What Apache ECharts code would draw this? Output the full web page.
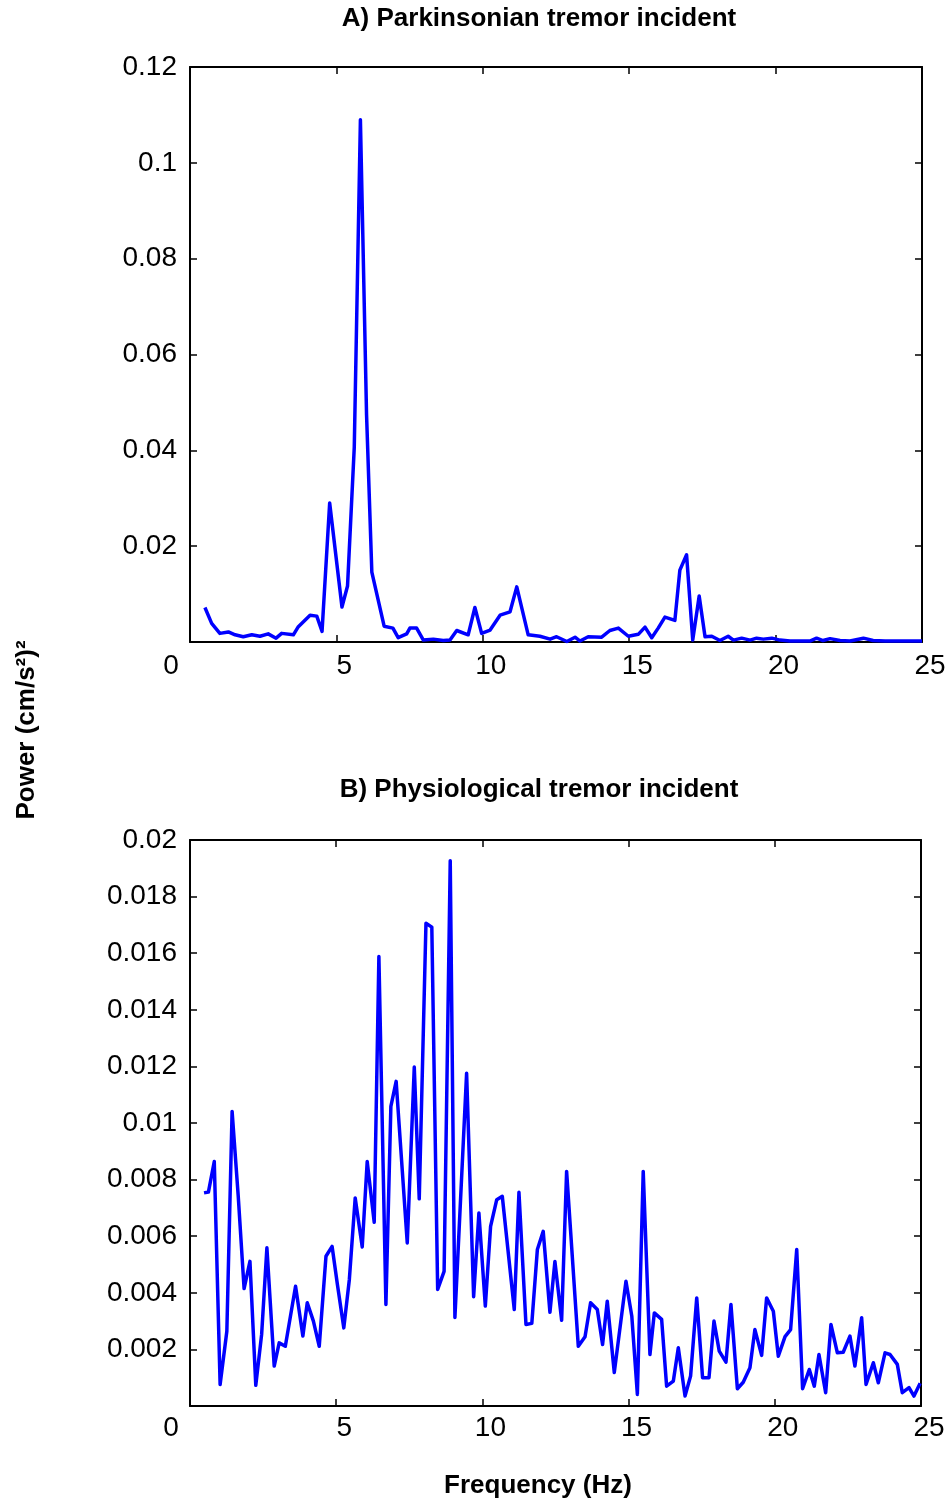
<!DOCTYPE html>
<html>
<head>
<meta charset="utf-8">
<script src="https://cdn.jsdelivr.net/npm/echarts@6/dist/echarts.min.js"></script>
<style>
html,body{margin:0;padding:0;background:#fff;}
#chart{width:950px;height:1502px;}
</style>
</head>
<body>
<div id="chart"></div>
<script>
// ---- Data ----
const titleA = 'A) Parkinsonian tremor incident';
const titleB = 'B) Physiological tremor incident';
const xName = 'Frequency (Hz)';
const yName = 'Power (cm/s\u00B2)\u00B2';

const xTicks = [0, 5, 10, 15, 20, 25];
const yTicksA = [0, 0.02, 0.04, 0.06, 0.08, 0.1, 0.12];
const yTicksB = [0, 0.002, 0.004, 0.006, 0.008, 0.01, 0.012, 0.014, 0.016, 0.018, 0.02];

const freqA = [0.51,0.74,1.02,1.31,1.54,1.82,2.11,2.39,2.67,2.94,3.13,3.53,3.70,4.10,4.33,4.51,4.77,5.19,5.38,5.61,5.82,6.03,6.21,6.63,6.93,7.11,7.40,7.51,7.74,7.97,8.31,8.65,8.88,9.11,9.50,9.73,9.96,10.25,10.59,10.93,11.16,11.55,11.95,12.30,12.52,12.87,13.15,13.32,13.60,14.06,14.34,14.63,14.97,15.31,15.54,15.77,15.99,16.22,16.56,16.73,16.96,17.17,17.39,17.59,17.82,18.10,18.38,18.56,18.84,19.13,19.35,19.58,19.87,20.15,20.49,20.83,21.17,21.40,21.62,21.86,22.20,22.54,23.00,23.33,23.74,24.25,25.00];
const powerA = [0.0072,0.0039,0.0018,0.0021,0.0015,0.0011,0.0015,0.0012,0.0017,0.0008,0.0018,0.0015,0.0032,0.0056,0.0054,0.0022,0.0290,0.0073,0.0117,0.0406,0.1090,0.0474,0.0146,0.0033,0.0029,0.0009,0.0017,0.0029,0.0029,0.0004,0.0006,0.0003,0.0004,0.0024,0.0015,0.0072,0.0018,0.0025,0.0056,0.0063,0.0115,0.0015,0.0012,0.0006,0.0011,0.0001,0.0010,0.0002,0.0011,0.0010,0.0024,0.0029,0.0012,0.0016,0.0031,0.0009,0.0029,0.0052,0.0045,0.0150,0.0182,0.0004,0.0096,0.0011,0.0012,0.0003,0.0012,0.0004,0.0008,0.0004,0.0008,0.0006,0.0008,0.0004,0.0002,0.0002,0.0002,0.0008,0.0003,0.0007,0.0003,0.0002,0.0008,0.0003,0.0002,0.0002,0.0002];

const freqB = [0.48,0.63,0.83,1.03,1.26,1.44,1.65,1.85,2.05,2.25,2.45,2.63,2.88,3.05,3.26,3.61,3.86,4.01,4.22,4.42,4.65,4.86,5.04,5.26,5.45,5.65,5.89,6.06,6.30,6.46,6.70,6.87,7.05,7.43,7.67,7.84,8.07,8.27,8.47,8.69,8.90,9.06,9.46,9.70,9.88,10.10,10.28,10.49,10.68,11.09,11.25,11.49,11.69,11.88,12.08,12.31,12.48,12.71,12.88,13.28,13.51,13.70,13.93,14.11,14.27,14.51,14.91,15.11,15.30,15.50,15.73,15.88,16.13,16.30,16.53,16.70,16.93,17.12,17.33,17.53,17.75,17.92,18.10,18.33,18.50,18.72,18.92,19.15,19.32,19.55,19.72,19.95,20.12,20.35,20.54,20.75,20.95,21.18,21.35,21.51,21.74,21.92,22.14,22.34,22.57,22.74,22.97,23.12,23.37,23.54,23.77,23.94,24.19,24.36,24.59,24.76,24.97];
const powerB = [0.00753,0.00756,0.00864,0.00076,0.00264,0.01041,0.00741,0.00415,0.00511,0.00073,0.00253,0.00559,0.00141,0.00223,0.00211,0.00423,0.00247,0.00365,0.0030,0.00211,0.00529,0.00564,0.0043,0.00276,0.00447,0.00735,0.00562,0.00864,0.00649,0.01588,0.00359,0.01059,0.01147,0.00576,0.01198,0.00732,0.01706,0.01692,0.00412,0.00476,0.01927,0.00313,0.01176,0.00386,0.00682,0.00353,0.00635,0.00729,0.00741,0.00341,0.00755,0.00288,0.00292,0.00553,0.00617,0.00331,0.00511,0.00303,0.00829,0.00211,0.00245,0.00365,0.00341,0.00217,0.0037,0.00118,0.00441,0.00317,0.00041,0.00829,0.00182,0.00329,0.00306,0.0007,0.00088,0.00206,0.00035,0.00106,0.00382,0.001,0.001,0.003,0.00194,0.00155,0.00359,0.00061,0.00084,0.00135,0.0027,0.00179,0.00382,0.00335,0.00176,0.00245,0.0027,0.00553,0.00061,0.00129,0.0007,0.00182,0.00047,0.00288,0.00188,0.0019,0.00247,0.00141,0.00312,0.00076,0.00153,0.00082,0.00188,0.00182,0.00147,0.00047,0.00065,0.00035,0.0008];

// ---- Chart ----
const FONT = '"Liberation Sans", Arial, Helvetica, sans-serif';
const TICK_FS = 28;
const BOLD_FS = 26;
const chart = echarts.init(document.getElementById('chart'), null, {renderer: 'canvas'});

function pairs(xs, ys) { return xs.map((x, i) => [x, ys[i]]); }
function fmtY(v) { return String(+v.toFixed(5)); }

const lineStyleAxis = {color: '#000', width: 2};
const tickStyle = {show: true, inside: true, length: 7, lineStyle: {color: '#000', width: 1.5}};

function xAxisMain(grid, margin) {
  return {
    gridIndex: grid, type: 'value', position: 'bottom',
    min: xTicks[0], max: xTicks[xTicks.length - 1], interval: xTicks[1] - xTicks[0],
    axisLine: {show: true, onZero: false, lineStyle: lineStyleAxis},
    axisTick: tickStyle,
    splitLine: {show: false},
    axisLabel: {
      show: true, margin: margin, color: '#000', fontFamily: FONT, fontSize: TICK_FS,
      formatter: v => (v === 0 ? '{z|0}' : '{s|' + v + '}'),
      rich: {
        z: {fontFamily: FONT, fontSize: TICK_FS, color: '#000', padding: [0, 38, 0, 0]},
        s: {fontFamily: FONT, fontSize: TICK_FS, color: '#000', padding: [0, 0, 0, 16]}
      }
    }
  };
}
function xAxisTop(grid) {
  return {
    gridIndex: grid, type: 'value', position: 'top',
    min: xTicks[0], max: xTicks[xTicks.length - 1], interval: xTicks[1] - xTicks[0],
    axisLine: {show: true, onZero: false, lineStyle: lineStyleAxis},
    axisTick: tickStyle,
    splitLine: {show: false}, axisLabel: {show: false}
  };
}
function yAxisMain(grid, ticks) {
  return {
    gridIndex: grid, type: 'value', position: 'left',
    min: ticks[0], max: ticks[ticks.length - 1], interval: ticks[1] - ticks[0],
    axisLine: {show: true, onZero: false, lineStyle: lineStyleAxis},
    axisTick: tickStyle,
    splitLine: {show: false},
    axisLabel: {show: true, showMinLabel: false, margin: 13, color: '#000', fontFamily: FONT, fontSize: TICK_FS, formatter: fmtY}
  };
}
function yAxisRight(grid, ticks) {
  return {
    gridIndex: grid, type: 'value', position: 'right',
    min: ticks[0], max: ticks[ticks.length - 1], interval: ticks[1] - ticks[0],
    axisLine: {show: true, onZero: false, lineStyle: lineStyleAxis},
    axisTick: tickStyle,
    splitLine: {show: false}, axisLabel: {show: false}
  };
}

const option = {
  backgroundColor: '#fff',
  animation: false,
  grid: [
    {left: 190, top: 67, width: 732, height: 575, containLabel: false},
    {left: 190, top: 840, width: 731, height: 566, containLabel: false}
  ],
  xAxis: [xAxisMain(0, 10), xAxisTop(0), xAxisMain(1, 8), xAxisTop(1)],
  yAxis: [yAxisMain(0, yTicksA), yAxisRight(0, yTicksA), yAxisMain(1, yTicksB), yAxisRight(1, yTicksB)],
  series: [
    {
      type: 'line', xAxisIndex: 0, yAxisIndex: 0, data: pairs(freqA, powerA),
      showSymbol: false, symbol: 'none', smooth: false,
      lineStyle: {color: '#0000ff', width: 3.5, join: 'round'}, clip: true
    },
    {
      type: 'line', xAxisIndex: 2, yAxisIndex: 2, data: pairs(freqB, powerB),
      showSymbol: false, symbol: 'none', smooth: false,
      lineStyle: {color: '#0000ff', width: 3.5, join: 'round'}, clip: true
    }
  ],
  graphic: [
    {type: 'text', x: 539, y: 19, style: {text: titleA, fill: '#000', font: 'bold ' + BOLD_FS + 'px ' + FONT, textAlign: 'center', textVerticalAlign: 'middle'}},
    {type: 'text', x: 539, y: 790, style: {text: titleB, fill: '#000', font: 'bold ' + BOLD_FS + 'px ' + FONT, textAlign: 'center', textVerticalAlign: 'middle'}},
    {type: 'text', x: 538, y: 1486, style: {text: xName, fill: '#000', font: 'bold ' + BOLD_FS + 'px ' + FONT, textAlign: 'center', textVerticalAlign: 'middle'}},
    {type: 'text', x: 27, y: 730, rotation: Math.PI / 2, style: {text: yName, fill: '#000', font: 'bold ' + BOLD_FS + 'px ' + FONT, textAlign: 'center', textVerticalAlign: 'middle'}}
  ]
};
chart.setOption(option);
</script>
</body>
</html>
